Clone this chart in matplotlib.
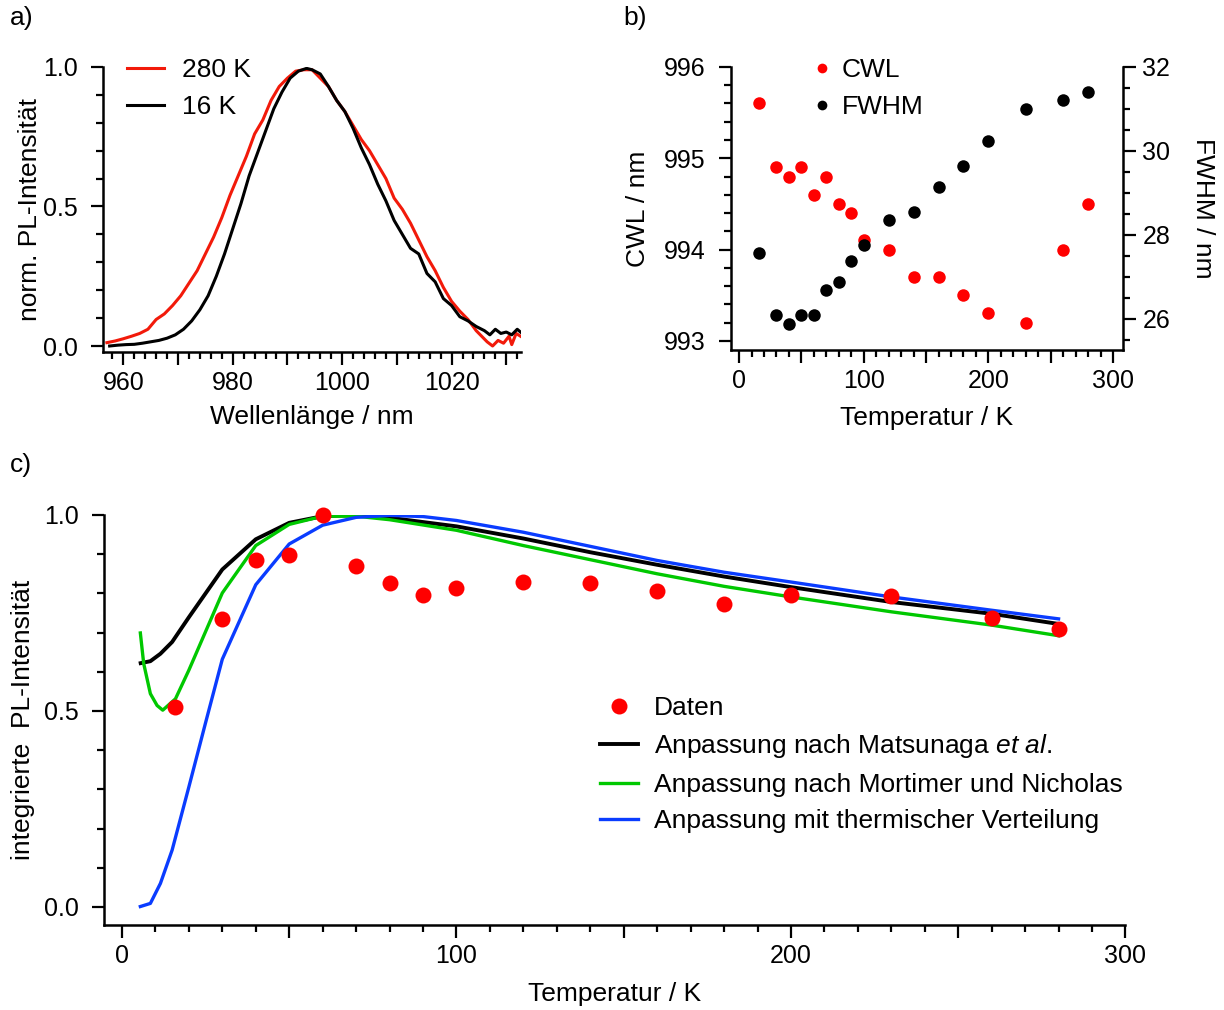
import numpy as np
import matplotlib
matplotlib.use("Agg")
import matplotlib.pyplot as plt
from matplotlib.ticker import MultipleLocator, FuncFormatter
from matplotlib.lines import Line2D

plt.rcParams['font.family'] = ['Liberation Sans', 'DejaVu Sans']
plt.rcParams['font.size'] = 18
plt.rcParams['mathtext.fontset'] = 'custom'
plt.rcParams['mathtext.rm'] = 'Liberation Sans'
plt.rcParams['mathtext.it'] = 'Liberation Sans:italic'

# a) spectra
wl_280 = [957.0, 958.5, 960, 961.5, 963, 964.5, 966, 967.5, 969, 970.5, 972, 973.5,
          975, 976.5, 978, 979.5, 981, 982.5, 984, 985.5, 987, 988.5, 990, 991.5,
          993, 994.5, 996, 997.5, 999, 1000.5, 1002, 1003.5, 1005, 1006.5, 1008,
          1009.5, 1011, 1012.5, 1014, 1015.5, 1017, 1018.5, 1020, 1021.5, 1023,
          1024.5, 1025.5, 1026.5, 1027.5, 1028.5, 1029.5, 1030.5, 1031, 1031.8, 1032.6]
pl_280 = [0.012, 0.018, 0.026, 0.035, 0.045, 0.06, 0.095, 0.115, 0.145, 0.18, 0.225, 0.27,
          0.33, 0.39, 0.46, 0.54, 0.61, 0.68, 0.76, 0.81, 0.88, 0.93, 0.96, 0.985,
          0.99, 0.99, 0.96, 0.93, 0.88, 0.84, 0.79, 0.74, 0.70, 0.65, 0.60,
          0.53, 0.49, 0.44, 0.38, 0.32, 0.27, 0.21, 0.16, 0.125, 0.095,
          0.055, 0.035, 0.015, 0.0, 0.02, 0.01, 0.035, 0.005, 0.045, 0.035]
wl_16 = [957.5, 959, 960.5, 962, 963.5, 965, 966.5, 968, 969.5, 971, 972.5, 974,
         975.5, 977, 978.5, 980, 981.5, 983, 984.5, 986, 987.5, 989, 990.5, 992,
         993.5, 994.5, 996, 997.5, 999, 1000.5, 1002, 1003.5, 1005, 1006.5, 1008,
         1009.5, 1011, 1012.5, 1014, 1015.5, 1017, 1018.5, 1020, 1021.5, 1023,
         1024.5, 1026, 1027, 1028, 1029, 1030, 1031, 1032, 1032.6]
pl_16 = [0.0, 0.003, 0.005, 0.006, 0.01, 0.015, 0.02, 0.028, 0.04, 0.06, 0.09, 0.13,
         0.18, 0.25, 0.33, 0.42, 0.51, 0.61, 0.69, 0.77, 0.85, 0.91, 0.96, 0.985,
         0.995, 0.99, 0.975, 0.93, 0.88, 0.84, 0.78, 0.71, 0.65, 0.58, 0.52,
         0.45, 0.40, 0.35, 0.33, 0.26, 0.23, 0.17, 0.145, 0.105, 0.09,
         0.07, 0.055, 0.04, 0.06, 0.045, 0.05, 0.04, 0.06, 0.05]

# b) CWL / FWHM
temps = [16, 30, 40, 50, 60, 70, 80, 90, 100, 120, 140, 160, 180, 200, 230, 260, 280]
cwl = [995.6, 994.9, 994.8, 994.9, 994.6, 994.8, 994.5, 994.4, 994.1, 994.0,
       993.7, 993.7, 993.5, 993.3, 993.2, 994.0, 994.5]
fwhm = [27.57, 26.09, 25.89, 26.09, 26.09, 26.68, 26.87, 27.37, 27.76, 28.35,
        28.55, 29.14, 29.63, 30.23, 31.01, 31.21, 31.40]

# c) integrated intensity
pl_int = [0.510, 0.734, 0.884, 0.897, 1.0, 0.871, 0.827, 0.797, 0.815, 0.828,
          0.826, 0.806, 0.773, 0.795, 0.794, 0.736, 0.710]
t_mats = [5.6, 8.5, 11.5, 15, 20, 30, 40, 50, 60, 70, 80, 100, 120, 140, 160, 180, 200, 230, 260, 280]
fit_mats = [0.622, 0.627, 0.646, 0.676, 0.739, 0.861, 0.938, 0.980, 0.997, 1.0, 0.993,
            0.971, 0.940, 0.905, 0.873, 0.843, 0.816, 0.778, 0.748, 0.722]
t_mort = [5.5, 6.5, 8.5, 10.5, 12.2, 16, 20, 30, 40, 50, 60, 70, 80, 100, 120, 140,
          160, 180, 200, 230, 260, 280]
fit_mort = [0.699, 0.621, 0.544, 0.514, 0.502, 0.531, 0.604, 0.801, 0.922, 0.976, 0.997,
            0.997, 0.988, 0.961, 0.922, 0.886, 0.850, 0.818, 0.791, 0.753, 0.719, 0.692]
t_therm = [5.5, 8.5, 11.5, 15, 20, 25, 30, 40, 50, 60, 70, 80, 90, 100, 120, 140,
           160, 180, 200, 230, 260, 280]
fit_therm = [0.001, 0.009, 0.06, 0.145, 0.306, 0.47, 0.632, 0.822, 0.926, 0.974, 0.994,
             0.999, 0.996, 0.986, 0.956, 0.920, 0.884, 0.854, 0.829, 0.791, 0.757, 0.735]

RED = '#ff0000'
GREEN = '#00c800'
BLUE = '#0a3cff'
LBL = 19


def style(ax, sides=('left', 'bottom')):
    for s in ax.spines:
        ax.spines[s].set_visible(s in sides)
        ax.spines[s].set_linewidth(1.8)
    ax.tick_params(which='major', direction='out', length=9, width=1.6, pad=5)
    ax.tick_params(which='minor', direction='out', length=5, width=1.6)
    ax.tick_params(axis='y', which='major', pad=9)


def every(step):
    return FuncFormatter(lambda v, p: ('%g' % v) if abs(v / step - round(v / step)) < 1e-6 else '')


fig = plt.figure(figsize=(12.24, 10.10), dpi=100)

# panel a
ax_a = fig.add_axes([0.0842, 0.6519, 0.3415, 0.2818])
ax_a.plot(wl_280, pl_280, color='#f21a0a', lw=2.2, label='280 K')
ax_a.plot(wl_16, pl_16, color='black', lw=2.2, label='16 K')
ax_a.set_xlim(956.3, 1032.7)
ax_a.set_ylim(-0.02, 1.0)
style(ax_a)
ax_a.xaxis.set_major_locator(MultipleLocator(10))
ax_a.xaxis.set_major_formatter(every(20))
ax_a.xaxis.set_minor_locator(MultipleLocator(2))
ax_a.yaxis.set_major_locator(MultipleLocator(0.5))
ax_a.yaxis.set_major_formatter(FuncFormatter(lambda v, p: '%.1f' % v))
ax_a.yaxis.set_minor_locator(MultipleLocator(0.1))
ax_a.set_xlabel('Wellenlänge / nm', fontsize=LBL, labelpad=7)
ax_a.set_ylabel('norm. PL-Intensität', fontsize=LBL, labelpad=0.5)
ax_a.legend(loc='upper left', bbox_to_anchor=(127 / 1224, 1 - 58 / 1010),
            bbox_transform=fig.transFigure, frameon=False, fontsize=LBL,
            handlelength=1.4, handletextpad=0.7, borderpad=0, borderaxespad=0,
            labelspacing=0.5)

# panel b
ax_b = fig.add_axes([0.5972, 0.6535, 0.3203, 0.2802])
ax_b2 = ax_b.twinx()
ax_b.plot(temps, cwl, 'o', color=RED, ms=9, mec='none', clip_on=False)
ax_b2.plot(temps, fwhm, 'o', color='black', ms=9, mec='none', clip_on=False)
ax_b.set_xlim(-6.5, 308)
ax_b.set_ylim(992.9, 996.0)
ax_b2.set_ylim(25.26, 32.0)
style(ax_b, ('left', 'bottom'))
style(ax_b2, ('right',))
ax_b2.tick_params(axis='y', which='major', pad=5)
ax_b.xaxis.set_major_locator(MultipleLocator(50))
ax_b.xaxis.set_major_formatter(every(100))
ax_b.xaxis.set_minor_locator(MultipleLocator(10))
ax_b.yaxis.set_major_locator(MultipleLocator(1))
ax_b.yaxis.set_minor_locator(MultipleLocator(0.2))
ax_b2.yaxis.set_major_locator(MultipleLocator(2))
ax_b2.yaxis.set_minor_locator(MultipleLocator(0.5))
ax_b.set_xlabel('Temperatur / K', fontsize=LBL, labelpad=9)
ax_b.set_ylabel('CWL / nm', fontsize=LBL, labelpad=10)
ax_b2.set_ylabel('FWHM / nm', fontsize=LBL, rotation=-90, labelpad=32)
hb = [Line2D([], [], ls='none', marker='o', color=RED, ms=7, mec='none'),
      Line2D([], [], ls='none', marker='o', color='black', ms=7, mec='none')]
ax_b2.legend(hb, ['CWL', 'FWHM'], loc='upper left',
             bbox_to_anchor=(814 / 1224, 1 - 58 / 1010), bbox_transform=fig.transFigure,
             frameon=False, fontsize=LBL, handlelength=0.6, handletextpad=0.45,
             borderpad=0, borderaxespad=0, labelspacing=0.5)

# panel c
ax_c = fig.add_axes([0.0846, 0.0842, 0.8349, 0.4059])
ax_c.plot(t_mats, fit_mats, color='black', lw=2.8,
          label='Anpassung nach Matsunaga $\\it{et\\ al}$.')
ax_c.plot(t_mort, fit_mort, color=GREEN, lw=2.4, label='Anpassung nach Mortimer und Nicholas')
ax_c.plot(t_therm, fit_therm, color=BLUE, lw=2.4, label='Anpassung mit thermischer Verteilung')
ax_c.plot(temps, pl_int, 'o', color=RED, ms=11.5, mec='none', clip_on=False, label='Daten', zorder=5)
ax_c.set_xlim(-5.5, 300)
ax_c.set_ylim(-0.046, 1.0)
style(ax_c)
ax_c.xaxis.set_major_locator(MultipleLocator(50))
ax_c.xaxis.set_major_formatter(every(100))
ax_c.xaxis.set_minor_locator(MultipleLocator(10))
ax_c.yaxis.set_major_locator(MultipleLocator(0.5))
ax_c.yaxis.set_major_formatter(FuncFormatter(lambda v, p: '%.1f' % v))
ax_c.yaxis.set_minor_locator(MultipleLocator(0.1))
ax_c.set_xlabel('Temperatur / K', fontsize=LBL, labelpad=10)
ax_c.set_ylabel('integrierte  PL-Intensität', fontsize=LBL, labelpad=6)
h, l = ax_c.get_legend_handles_labels()
order = [3, 0, 1, 2]
ax_c.legend([h[i] for i in order], [l[i] for i in order], loc='upper left',
            bbox_to_anchor=(600 / 1224, 1 - 696 / 1010), bbox_transform=fig.transFigure,
            frameon=False, fontsize=LBL, handlelength=1.45, handletextpad=0.6,
            borderpad=0, borderaxespad=0, labelspacing=0.47)

fig.text(10 / 1224, 1 - 18 / 1010, 'a)', fontsize=LBL, va='center', ha='left')
fig.text(623 / 1224, 1 - 18 / 1010, 'b)', fontsize=LBL, va='center', ha='left')
fig.text(10 / 1224, 1 - 465 / 1010, 'c)', fontsize=LBL, va='center', ha='left')

fig.savefig('out.png', dpi=100)
